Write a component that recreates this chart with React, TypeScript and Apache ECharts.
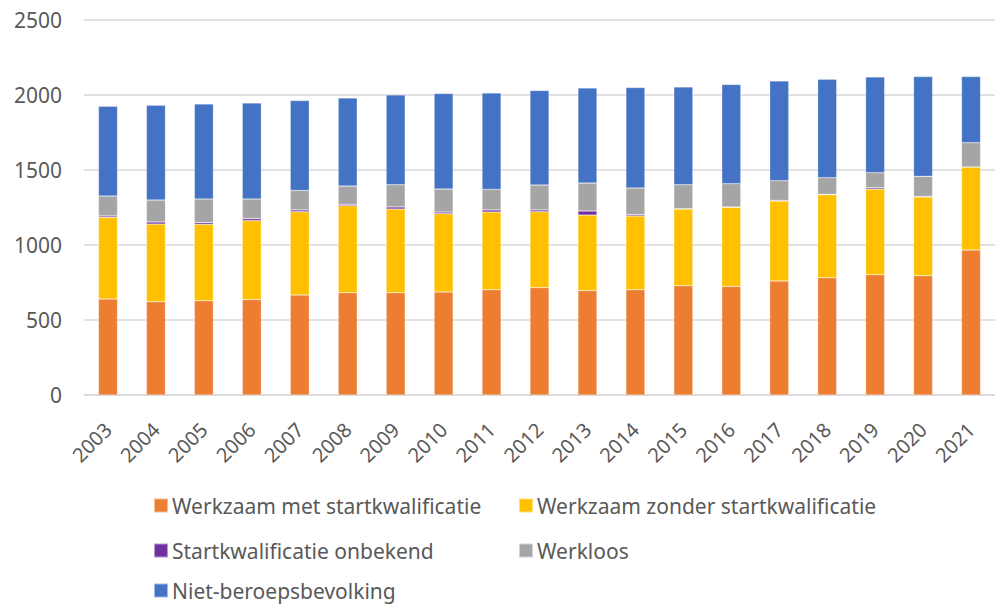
import React, { useEffect, useRef } from "react";
import * as echarts from "echarts";

const years = ["2003","2004","2005","2006","2007","2008","2009","2010","2011","2012","2013","2014","2015","2016","2017","2018","2019","2020","2021"];
const metStart = [639,621,628,635,666,681,681,686,701,715,695,701,728,723,759,781,801,794,965];
const zonderStart = [544,517,508,526,554,579,557,521,517,505,503,491,510,527,532,553,570,524,553];
const onbekend = [9,14,11,13,12,9,14,11,14,12,27,8,2,2,5,2,9,5,0];
const werkloos = [133,146,158,131,130,122,148,153,137,166,186,178,160,155,131,111,100,133,162];
const nietBeroeps = [597,631,633,639,598,587,598,636,642,629,633,669,651,660,664,655,638,664,440];

const seriesNames = [
  "Werkzaam met startkwalificatie",
  "Werkzaam zonder startkwalificatie",
  "Startkwalificatie onbekend",
  "Werkloos",
  "Niet-beroepsbevolking",
];
const seriesColors = ["#ED7D31", "#FFC000", "#7030A0", "#A5A5A5", "#4472C4"];
const yTicks = { min: 0, max: 2500, interval: 500 };

const FONT = "'Noto Sans', sans-serif";
const TXT = "#595959";

export default function App() {
  const ref = useRef<HTMLDivElement>(null);
  useEffect(() => {
    if (!ref.current) return;
    const chart = echarts.init(ref.current, undefined, { renderer: "svg" });
    const values = [metStart, zonderStart, onbekend, werkloos, nietBeroeps];
    const legendPos = [
      { left: 153, top: 495 },
      { left: 518, top: 495 },
      { left: 153, top: 540 },
      { left: 518, top: 540 },
      { left: 153, top: 580 },
    ];
    chart.setOption({
      animation: false,
      textStyle: { fontFamily: FONT },
      grid: { left: 84, right: 0, top: 19.5, bottom: 209, containLabel: false },
      legend: seriesNames.map((n, i) => ({
        data: [n],
        left: legendPos[i].left,
        top: legendPos[i].top,
        padding: 0,
        itemWidth: 14,
        itemHeight: 14,
        itemGap: 0,
        icon: "rect",
        selectedMode: false,
        textStyle: { fontFamily: FONT, fontSize: 21, color: TXT, lineHeight: 20, padding: [0, 0, 0, -1] },
      })),
      xAxis: {
        type: "category",
        data: years,
        axisLine: { lineStyle: { color: "#D9D9D9", width: 1.5 } },
        axisTick: { show: false },
        axisLabel: {
          interval: 0,
          rotate: 45,
          margin: 31,
          fontFamily: FONT,
          fontSize: 20,
          color: TXT,
        },
      },
      yAxis: {
        type: "value",
        min: yTicks.min,
        max: yTicks.max,
        interval: yTicks.interval,
        axisLine: { show: false },
        axisTick: { show: false },
        splitLine: { lineStyle: { color: "#D9D9D9", width: 1.5 } },
        axisLabel: {
          margin: 22,
          fontFamily: FONT,
          fontSize: 21,
          color: TXT,
          formatter: (v: number) => String(v),
        },
      },
      series: seriesNames.map((n, i) => ({
        name: n,
        type: "bar",
        stack: "total",
        barWidth: 19,
        data: values[i],
        itemStyle: { color: seriesColors[i], borderColor: "rgba(255,255,255,0.5)", borderWidth: 0.5 },
      })),
    });
    return () => chart.dispose();
  }, []);
  return (
    <div
      ref={ref}
      style={{ position: "fixed", left: 0, top: 0, width: 995, height: 604, background: "#fff" }}
    />
  );
}
